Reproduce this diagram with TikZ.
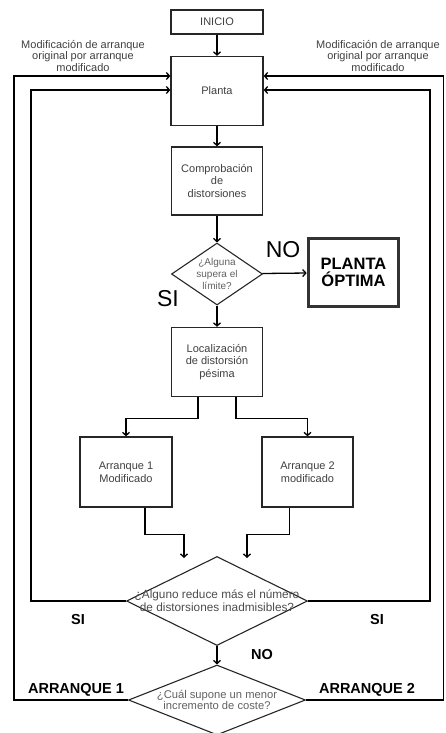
\documentclass[tikz,border=0pt]{standalone}
\usepackage{fontspec}
\setmainfont{Liberation Sans}
\usepackage{xcolor}
\usepackage{tikz}
\usetikzlibrary{shapes.geometric, arrows.meta, positioning}

\begin{document}
\begin{tikzpicture}[
    x=1pt, y=-1pt,
    box/.style    = {draw=black!85, line width=1.3pt, fill=white, align=center, inner sep=2pt,
                     text=black!75, font=\fontsize{11}{12.8}\selectfont},
    decis/.style  = {draw=black!85, line width=1.1pt, diamond, inner sep=0pt, fill=none},
    qtext/.style  = {align=center, text=black!62},
    final/.style  = {draw=black!80, line width=3.6pt, align=center, inner sep=2pt,
                     font=\fontsize{16.5}{17}\selectfont\bfseries},
    note/.style   = {align=center, text=black!75, font=\fontsize{11}{11.5}\selectfont},
    big/.style    = {font=\fontsize{23}{23}\selectfont},
    tag/.style    = {font=\fontsize{14.5}{15}\selectfont\bfseries},
    arr/.style    = {-{Straight Barb[length=3.2pt,width=7pt]}, line width=1.3pt},
    wire/.style   = {line width=1.3pt}
]
\useasboundingbox (0,0) rectangle (445,733);

% ---- Main column ----
\node[box, minimum width=92pt, minimum height=24pt] (inicio) at (217,22)  {INICIO};
\node[box, minimum width=92pt, minimum height=69pt] (planta) at (217,91)  {Planta};
\node[box, minimum width=91pt, minimum height=68pt] (comp)   at (217,181) {Comprobación\\de\\distorsiones};
\node[decis, minimum width=91pt, minimum height=62pt,
      label={[qtext, font=\fontsize{10}{11.8}\selectfont]center:¿Alguna\\supera el\\límite?}] (q1) at (217,274) {};
\node[final, minimum width=90pt, minimum height=68pt] (optima) at (353.5,272.5) {PLANTA\\ÓPTIMA};
\node[box, minimum width=91pt, minimum height=69pt] (loc)    at (217,362) {Localización\\de distorsión\\pésima};

% ---- Two branches ----
\node[box, minimum width=92pt, minimum height=70pt] (arr1) at (126,472)   {Arranque 1\\Modificado};
\node[box, minimum width=91pt, minimum height=70pt] (arr2) at (307.5,472) {Arranque 2\\modificado};

% ---- Lower decisions ----
\node[decis, minimum width=181pt, minimum height=89pt,
      label={[qtext, text=black!70, font=\fontsize{11.8}{12.6}\selectfont]center:¿Alguno reduce más el número\\de distorsiones inadmisibles?}] (q2) at (217,601) {};
\node[decis, minimum width=177pt, minimum height=70pt,
      label={[qtext, font=\fontsize{11.2}{11.6}\selectfont]center:¿Cuál supone un menor\\incremento de coste?}] (q3) at (217,700) {};

% ---- Main arrows ----
\draw[arr] (inicio) -- (planta);
\draw[arr] (planta) -- (comp);
\draw[arr] (comp)   -- (q1);
\draw[arr] (q1)     -- (loc);
\draw[arr] (q1)     -- (optima);
\draw[arr] (q2)     -- (q3);

\draw[arr] ([xshift=-19pt]loc.south) -- ++(0,21) -| (arr1.north);
\draw[arr] ([xshift=19pt]loc.south)  -- ++(0,21) -| (arr2.north);

\coordinate (m1) at (184,558);
\coordinate (m2) at (247,558);
\draw[arr] ([xshift=19pt]arr1.south)  -- ++(0,27) -| (m1);
\draw[arr] ([xshift=-18pt]arr2.south) -- ++(0,27) -| (m2);

% ---- Feedback loops ----
\coordinate (lo) at (14,76);
\coordinate (li) at (31,90);
\coordinate (ro) at (443.5,76);
\coordinate (ri) at (430,90);
\draw[arr] (q3.west) -| (lo) -- (lo -| planta.west);
\draw[arr] (q2.west) -| (li) -- (li -| planta.west);
\draw[arr] (q3.east) -| (ro) -- (ro -| planta.east);
\draw[arr] (q2.east) -| (ri) -- (ri -| planta.east);

% ---- Labels ----
\node[note] (notel) at (83,56)  {Modificación de arranque\\original por arranque\\modificado};
\node[note] (noter) at (378,56) {Modificación de arranque\\original por arranque\\modificado};
\node[big] (no1) at (283,250) {NO};
\node[big] (si1) at (168,299) {SI};
\node[tag] (si2) at (78,620)  {SI};
\node[tag] (si3) at (377,620) {SI};
\node[tag] (no2) at (262,655) {NO};
\node[tag] (a1)  at (76,690)  {ARRANQUE 1};
\node[tag] (a2)  at (367,690) {ARRANQUE 2};

\end{tikzpicture}
\end{document}
